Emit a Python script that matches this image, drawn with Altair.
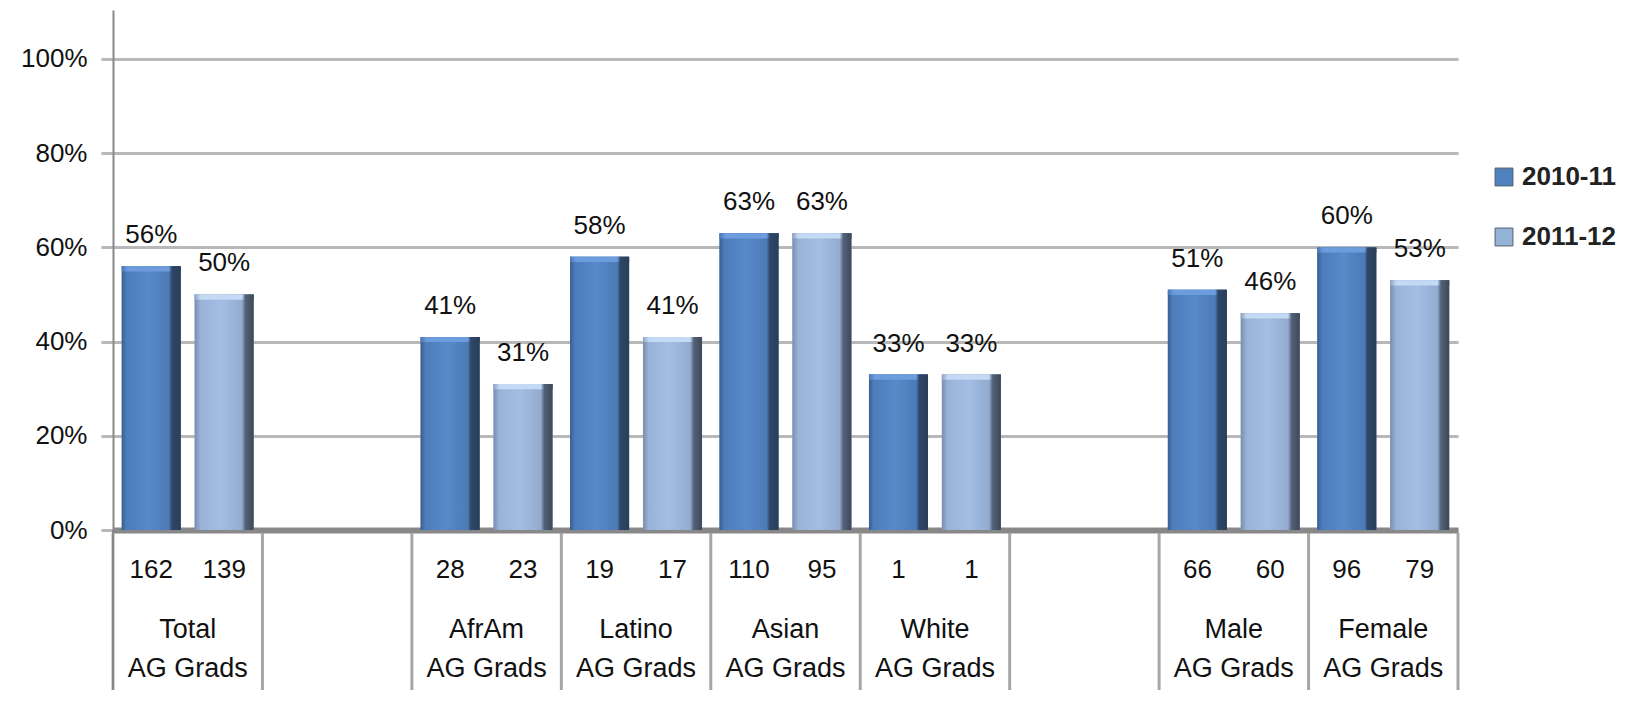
import altair as alt
import pandas as pd

cats = ["Total", "gap1", "AfrAm", "Latino", "Asian", "White", "gap2", "Male", "Female"]
groups = ["Total", "AfrAm", "Latino", "Asian", "White", "Male", "Female"]
years = ["2010-11", "2011-12"]
pct_1011 = [56, 41, 58, 63, 33, 51, 60]
pct_1112 = [50, 31, 41, 63, 33, 46, 53]
n_1011 = [162, 28, 19, 110, 1, 66, 96]
n_1112 = [139, 23, 17, 95, 1, 60, 79]
line2 = "AG Grads"

rows = []
for i, g in enumerate(groups):
    rows.append({"cat": g, "year": years[0], "pct": pct_1011[i], "n": n_1011[i]})
    rows.append({"cat": g, "year": years[1], "pct": pct_1112[i], "n": n_1112[i]})
df = pd.DataFrame(rows)
df["label"] = df["pct"].astype(str) + "%"

cat_df = pd.DataFrame({"cat": groups, "line1": groups, "line2": [line2] * len(groups)})
bound_df = pd.DataFrame({"cat": cats})

FONT = "Liberation Sans"
xs = alt.Scale(domain=cats, paddingInner=0, paddingOuter=0)
x_enc = alt.X("cat:N", scale=xs, sort=cats,
              axis=alt.Axis(labels=False, ticks=False, title=None, grid=False,
                            domainColor="#888888", domainWidth=6))
xo_enc = alt.XOffset("year:N", sort=years,
                     scale=alt.Scale(domain=years, paddingInner=0.19, paddingOuter=0.12))
y_enc = alt.Y("pct:Q", scale=alt.Scale(domain=[0, 110.4], nice=False),
              axis=alt.Axis(values=[0, 20, 40, 60, 80, 100], labelExpr="datum.value + '%'",
                            title=None))

def grad(stops):
    return {"gradient": "linear", "x1": 0, "x2": 1, "y1": 0, "y2": 0,
            "stops": [{"offset": o, "color": c} for o, c in stops]}

dark_grad = grad([(0, "#3A5E90"), (0.08, "#4D7CBA"), (0.45, "#5889C9"), (0.8, "#4C7AB6"),
                  (0.85, "#2E4767"), (1, "#2A3E58")])
light_grad = grad([(0, "#7A8EAB"), (0.1, "#98B2D8"), (0.45, "#A3BDE3"), (0.8, "#93ABCF"),
                   (0.86, "#536279"), (1, "#3D4858")])
dark_cap = grad([(0, "#4A78B5"), (0.1, "#6C9CDE"), (0.8, "#6C9CDE"), (0.85, "#2E4767"),
                 (1, "#2A3E58")])
light_cap = grad([(0, "#8EA3C2"), (0.1, "#C4D9F4"), (0.8, "#C4D9F4"), (0.86, "#536279"),
                  (1, "#3D4858")])

base = alt.Chart(df)

bars = base.mark_bar().encode(
    x=x_enc, xOffset=xo_enc, y=y_enc,
    color=alt.Color("year:N", sort=years,
                    scale=alt.Scale(domain=years, range=["#4F81BD", "#95B3D7"]),
                    legend=alt.Legend(orient="none", legendX=1378, legendY=154, title=None,
                                      symbolType="square", symbolSize=320,
                                      symbolStrokeColor="#556070", symbolStrokeWidth=1,
                                      labelFont=FONT, labelFontSize=26, labelFontWeight="bold",
                                      labelColor="#222222", rowPadding=34, labelOffset=5)),
)

dark = base.transform_filter(alt.datum.year == years[0]).mark_bar(color=dark_grad).encode(
    x=x_enc, xOffset=xo_enc, y=y_enc)
light = base.transform_filter(alt.datum.year == years[1]).mark_bar(color=light_grad).encode(
    x=x_enc, xOffset=xo_enc, y=y_enc)

caps_d = base.transform_filter(alt.datum.year == years[0]).transform_calculate(
    top0="datum.pct - 1.1").mark_bar(color=dark_cap).encode(
    x=x_enc, xOffset=xo_enc, y=alt.Y("top0:Q"), y2=alt.Y2("pct:Q"))
caps_l = base.transform_filter(alt.datum.year == years[1]).transform_calculate(
    top0="datum.pct - 1.1").mark_bar(color=light_cap).encode(
    x=x_enc, xOffset=xo_enc, y=alt.Y("top0:Q"), y2=alt.Y2("pct:Q"))

labels = base.mark_text(font=FONT, fontSize=26, color="#111111", baseline="alphabetic",
                        dy=-23).encode(
    x=x_enc, xOffset=xo_enc, y=y_enc, text="label:N")

nums = base.mark_text(font=FONT, fontSize=26, color="#111111", baseline="middle").encode(
    x=x_enc, xOffset=xo_enc, y=alt.value(560), text="n:Q")

cat1 = alt.Chart(cat_df).mark_text(font=FONT, fontSize=27, color="#111111",
                                   baseline="middle").encode(
    x=x_enc, y=alt.value(620), text="line1:N")
cat2 = alt.Chart(cat_df).mark_text(font=FONT, fontSize=27, color="#111111",
                                   baseline="middle").encode(
    x=x_enc, y=alt.value(659), text="line2:N")

div0 = alt.Chart(bound_df).mark_rule(color="#A6A6A6", strokeWidth=3).encode(
    x=alt.X("cat:N", scale=xs, sort=cats, bandPosition=0),
    y=alt.value(523), y2=alt.value(680))
div_end = alt.Chart(pd.DataFrame({"cat": [cats[-1]]})).mark_rule(
    color="#A6A6A6", strokeWidth=3).encode(
    x=alt.X("cat:N", scale=xs, sort=cats, bandPosition=1),
    y=alt.value(523), y2=alt.value(680))
left_line = alt.Chart(pd.DataFrame({"cat": [cats[0]]})).mark_rule(
    color="#888888", strokeWidth=2).encode(
    x=alt.X("cat:N", scale=xs, sort=cats, bandPosition=0),
    y=alt.value(520), y2=alt.value(680))

chart = alt.layer(
    bars, dark, light, caps_d, caps_l, labels, nums, cat1, cat2, div0, div_end, left_line
).properties(
    width=1345, height=520,
    padding={"left": 12, "top": 2, "right": 5, "bottom": 2},
).configure_view(stroke=None).configure_axis(
    labelFont=FONT, labelFontSize=26, labelColor="#111111", labelPadding=14,
    gridColor="#B8B8B8", gridWidth=3, tickColor="#B8B8B8", tickSize=12, tickWidth=3,
    domainColor="#888888", domainWidth=2,
).configure_axisY(grid=True)

chart.save("out.html", embed_options={"renderer": "svg", "actions": False})
